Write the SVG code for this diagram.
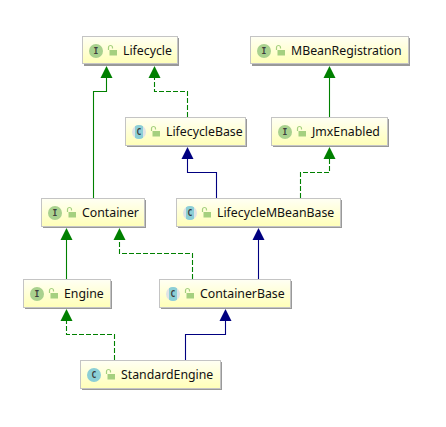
<svg xmlns="http://www.w3.org/2000/svg" width="446" height="427" viewBox="0 0 446 427">
<style>
.box{fill:url(#bg);stroke:#c4c4c4;stroke-width:1}
.sh{fill:#999}
.t{font:12.300px "Noto Sans",sans-serif;fill:#111}
.g{font:bold 8px "DejaVu Sans Mono",monospace;fill:#3c3c3c;text-anchor:middle}
.e{fill:none;stroke-width:1.100}
.gr{stroke:#008000}.na{stroke:#000080}
.d{stroke-dasharray:5 2}
.ag{fill:#008000}.an{fill:#000080}
.ii{fill:#a9d18e}.cc{fill:#8ccfd6}
</style>
<defs>
<linearGradient id="bg" x1="0" y1="0" x2="0" y2="1"><stop offset="0" stop-color="#fffff4"/><stop offset="1" stop-color="#ffffb8"/></linearGradient>
<g id="lock"><rect x="-2.500" y="-1" width="7.500" height="5.500" fill="#a5d07f"/><path d="M-3.500 -1v-2.500a2 2 0 0 1 4 0v1" fill="none" stroke="#a5d07f" stroke-width="1.200"/></g>
<clipPath id="mid"><rect x="-4" y="-8" width="8" height="16"/></clipPath>
<g id="abs"><circle r="7" fill="#dfe3e6"/><circle r="7" class="cc" clip-path="url(#mid)"/></g>
</defs>
<rect width="446" height="427" fill="#fff"/>
<g id="connectors">
<path class="e gr" d="M106.500 78V91.500H93.500V198"/><path class="ag" d="M106.500 66l-6 12h12z"/>
<path class="e gr d" d="M187.500 117V91.500H154.500V78"/><path class="ag" d="M154.500 66l-6 12h12z"/>
<path class="e gr" d="M329.500 117V78"/><path class="ag" d="M329.500 66l-6 12h12z"/>
<path class="e gr d" d="M300.500 198V172.500H329.500V159"/><path class="ag" d="M329.500 147l-6 12h12z"/>
<path class="e na" d="M216.500 198V172.500H187.500V159"/><path class="an" d="M187.500 147l-6 12h12z"/>
<path class="e gr" d="M66.500 279V240"/><path class="ag" d="M66.500 228l-6 12h12z"/>
<path class="e gr d" d="M192.500 279V253.500H119.500V240"/><path class="ag" d="M119.500 228l-6 12h12z"/>
<path class="e na" d="M258.500 279V240"/><path class="an" d="M258.500 228l-6 12h12z"/>
<path class="e gr d" d="M114.500 360V334.500H66.500V321"/><path class="ag" d="M66.500 309l-6 12h12z"/>
<path class="e na" d="M185.500 360V334.500H225.500V321"/><path class="an" d="M225.500 309l-6 12h12z"/>
</g>
<g id="Lifecycle"><rect class="sh" x="84" y="38" width="95" height="28"/><rect class="box" x="82.500" y="36.500" width="95" height="27"/><circle class="ii" cx="96" cy="51" r="7"/><text class="g" x="96" y="54">I</text><use href="#lock" x="112" y="51"/><text class="t" x="123" y="55">Lifecycle</text></g>
<g id="MBeanRegistration"><rect class="sh" x="252" y="38" width="158" height="28"/><rect class="box" x="250.500" y="36.500" width="158" height="27"/><circle class="ii" cx="264" cy="51" r="7"/><text class="g" x="264" y="54">I</text><use href="#lock" x="280" y="51"/><text class="t" x="291" y="55">MBeanRegistration</text></g>
<g id="LifecycleBase"><rect class="sh" x="127" y="119" width="120" height="28"/><rect class="box" x="125.500" y="117.500" width="120" height="28"/><use href="#abs" x="139" y="132"/><text class="g" x="139" y="135">C</text><use href="#lock" x="155" y="132"/><text class="t" x="166" y="136">LifecycleBase</text></g>
<g id="JmxEnabled"><rect class="sh" x="273" y="119" width="116" height="28"/><rect class="box" x="271.500" y="117.500" width="116" height="28"/><circle class="ii" cx="285" cy="132" r="7"/><text class="g" x="285" y="135">I</text><use href="#lock" x="301" y="132"/><text class="t" x="312" y="136">JmxEnabled</text></g>
<g id="Container"><rect class="sh" x="43" y="200" width="103" height="28"/><rect class="box" x="41.500" y="198.500" width="103" height="28"/><circle class="ii" cx="55" cy="213" r="7"/><text class="g" x="55" y="216">I</text><use href="#lock" x="71" y="213"/><text class="t" x="82" y="217">Container</text></g>
<g id="LifecycleMBeanBase"><rect class="sh" x="178" y="200" width="164" height="28"/><rect class="box" x="176.500" y="198.500" width="164" height="28"/><use href="#abs" x="190" y="213"/><text class="g" x="190" y="216">C</text><use href="#lock" x="206" y="213"/><text class="t" x="217" y="217">LifecycleMBeanBase</text></g>
<g id="Engine"><rect class="sh" x="25" y="281" width="87" height="28"/><rect class="box" x="23.500" y="279.500" width="87" height="28"/><circle class="ii" cx="37" cy="294" r="7"/><text class="g" x="37" y="297">I</text><use href="#lock" x="53" y="294"/><text class="t" x="64" y="298">Engine</text></g>
<g id="ContainerBase"><rect class="sh" x="161" y="281" width="131" height="28"/><rect class="box" x="159.500" y="279.500" width="131" height="28"/><use href="#abs" x="173" y="294"/><text class="g" x="173" y="297">C</text><use href="#lock" x="189" y="294"/><text class="t" x="200" y="298">ContainerBase</text></g>
<g id="StandardEngine"><rect class="sh" x="82" y="362" width="140" height="28"/><rect class="box" x="80.500" y="360.500" width="140" height="28"/><circle class="cc" cx="94" cy="375" r="7"/><text class="g" x="94" y="378">C</text><use href="#lock" x="110" y="375"/><text class="t" x="121" y="379">StandardEngine</text></g>
</svg>
